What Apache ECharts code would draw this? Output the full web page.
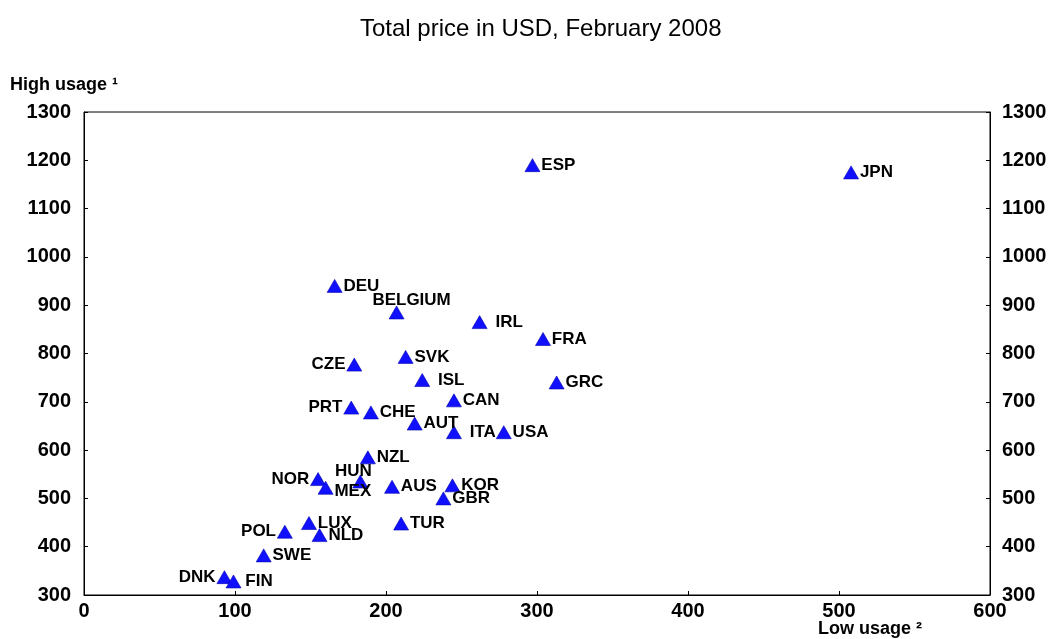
<!DOCTYPE html>
<html>
<head>
<meta charset="utf-8">
<script src="https://cdn.jsdelivr.net/npm/echarts@6/dist/echarts.min.js"></script>
<style>html,body{margin:0;padding:0;background:#fff}#c{width:1052px;height:639px}</style>
</head>
<body>
<div id="c"></div>
<script>
var countries = ['ESP','JPN','DEU','BELGIUM','IRL','FRA','GRC','CAN','ITA','USA','CZE','SVK','ISL','PRT','CHE','AUT','NZL','HUN','NOR','MEX','AUS','KOR','GBR','TUR','LUX','NLD','POL','SWE','DNK','FIN'];
var lowUsage  = [297, 508, 166, 207, 262, 304, 313, 245, 245, 278, 179, 213, 224, 177, 190, 219, 188, 183, 155, 160, 204, 244, 238, 210, 149, 156, 133, 119, 93, 99];
var highUsage = [1190,1175, 940, 885, 865, 830, 740, 703, 637, 637, 777, 793, 745, 688, 678, 655, 585, 535, 540, 522, 524, 527, 500, 448, 449, 424, 431, 382, 337, 328];
var xTicks = [0, 100, 200, 300, 400, 500, 600];
var yTicks = [300, 400, 500, 600, 700, 800, 900, 1000, 1100, 1200, 1300];

// label placement (layout only)
var leftLabels = {CZE:1, PRT:1, NOR:1, POL:1, DNK:1};
var gapLabels = {ISL:8, ITA:8, IRL:8, FIN:4};
var special = {HUN:[-7,-10], BELGIUM:[15,-12]};
var extraOffset = {MEX:[0,4]};

var FONT = 'Liberation Sans, Arial, sans-serif';
var data = countries.map(function(c, i){
  var lbl;
  if (special[c]) {
    lbl = {position:'inside', offset: special[c]};
  } else if (leftLabels[c]) {
    lbl = {position:'left', distance: 1};
  } else {
    lbl = {position:'right', distance: gapLabels[c] || 1};
    if (extraOffset[c]) lbl.offset = extraOffset[c];
  }
  return {value:[lowUsage[i], highUsage[i]], name:c, label:lbl};
});

var chart = echarts.init(document.getElementById('c'));
chart.setOption({
  animation:false,
  backgroundColor:'#fff',
  title:{text:'Total price in USD, February 2008', left:355, top:12,
    textStyle:{fontFamily:FONT, fontSize:24, fontWeight:'normal', color:'#000'}},
  grid:{left:84, right:62, top:112, bottom:44, show:true, borderColor:'#000', borderWidth:1},
  xAxis:{type:'value', min:0, max:600, interval:100,
    axisLine:{lineStyle:{color:'#000'}},
    axisTick:{inside:true, length:4, lineStyle:{color:'#000'}},
    splitLine:{show:false},
    axisLabel:{fontFamily:FONT, fontSize:20, fontWeight:'bold', color:'#000', margin:6,
      formatter:function(v){return xTicks.indexOf(v)>=0? String(v):'';}}},
  yAxis:[
    {type:'value', min:300, max:1300, interval:100, position:'left',
      axisLine:{show:true, lineStyle:{color:'#000'}},
      axisTick:{show:true, inside:true, length:4, lineStyle:{color:'#000'}},
      splitLine:{show:false},
      axisLabel:{fontFamily:FONT, fontSize:20, fontWeight:'bold', color:'#000', margin:13,
        formatter:function(v){return yTicks.indexOf(v)>=0? String(v):'';}}},
    {type:'value', min:300, max:1300, interval:100, position:'right',
      axisLine:{show:true, lineStyle:{color:'#000'}},
      axisTick:{show:true, inside:true, length:4, lineStyle:{color:'#000'}},
      splitLine:{show:false},
      axisLabel:{fontFamily:FONT, fontSize:20, fontWeight:'bold', color:'#000', margin:12,
        formatter:function(v){return yTicks.indexOf(v)>=0? String(v):'';}}}
  ],
  graphic:[
    {type:'text', left:10, top:76, style:{text:'High usage ¹', font:'bold 18px '+FONT, fill:'#000'}},
    {type:'text', left:818, top:620, style:{text:'Low usage ²', font:'bold 18px '+FONT, fill:'#000'}}
  ],
  series:[{
    type:'scatter',
    symbol:'triangle',
    symbolSize:[15,13],
    itemStyle:{color:'#1010ff', borderColor:'#0000b0', borderWidth:0.6, opacity:1},
    label:{show:true, formatter:'{b}', fontFamily:FONT, fontSize:17, fontWeight:'bold', color:'#000'},
    emphasis:{disabled:true},
    data:data
  }]
});
</script>
</body>
</html>
